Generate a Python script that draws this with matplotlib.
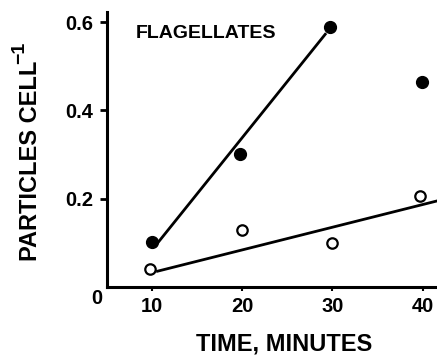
import matplotlib

matplotlib.use("Agg")
import matplotlib.pyplot as plt

plt.rcParams["font.family"] = ["Liberation Sans", "DejaVu Sans"]
plt.rcParams["font.weight"] = "bold"

# Filled circles (upper series) and open circles (lower series)
filled_t = [10.0, 19.8, 29.7, 39.9]
filled_p = [0.102, 0.302, 0.590, 0.464]
open_t = [9.8, 20.0, 29.9, 39.7]
open_p = [0.041, 0.130, 0.100, 0.206]

# Hand-drawn fit lines (end points)
fit_filled_t = [10.55, 29.3]
fit_filled_p = [0.098, 0.575]
fit_open_t = [10.45, 42.0]
fit_open_p = [0.035, 0.197]

xticks = [10, 20, 30, 40]
yticks = [0.2, 0.4, 0.6]

fig = plt.figure(figsize=(4.37, 3.56), dpi=100)
ax = fig.add_axes([107 / 437, 1 - 287 / 356, 1 - 107 / 437, (287 - 12) / 356])

ax.plot(fit_filled_t, fit_filled_p, color="black", lw=2.0, solid_capstyle="butt")
ax.plot(fit_open_t, fit_open_p, color="black", lw=2.0, solid_capstyle="butt")
ax.plot(filled_t, filled_p, "o", color="black", ms=8.5, zorder=3)
ax.plot(open_t, open_p, "o", mfc="white", mec="black", mew=1.6, ms=7.5, zorder=3)

ax.set_xlim(5.0, 41.6)
ax.set_ylim(0, 0.623)
ax.set_xticks(xticks)
ax.set_xticklabels([str(t) for t in xticks])
ax.set_yticks(yticks)
ax.set_yticklabels([f"{v:.1f}" for v in yticks])

for side in ["top", "right"]:
    ax.spines[side].set_visible(False)
for side in ["left", "bottom"]:
    ax.spines[side].set_linewidth(2.2)

ax.tick_params(axis="y", length=5, width=2, pad=5, labelsize=14.5)
ax.tick_params(axis="x", length=3, width=1.5, pad=4, labelsize=14.5)

# lone zero at the corner
ax.text(3.9, -0.026, "0", ha="center", va="center", fontsize=14.5,
        fontweight="bold", clip_on=False)

ax.text(8.2, 0.575, "FLAGELLATES", ha="left", va="center", fontsize=14,
        fontweight="bold")

fig.text(284 / 437, 1 - 344 / 356, "TIME, MINUTES", ha="center", va="center",
         fontsize=17, fontweight="bold")
# y label, with a large hand-set superscript as in the original
fig.text(31 / 437, 1 - 161 / 356, "PARTICLES CELL", ha="center",
         va="center", rotation=90, fontsize=17, fontweight="bold")
fig.text(20 / 437, 1 - 53 / 356, "\u22121", ha="center",
         va="center", rotation=90, fontsize=14, fontweight="bold")

fig.savefig("out.png", dpi=100)
